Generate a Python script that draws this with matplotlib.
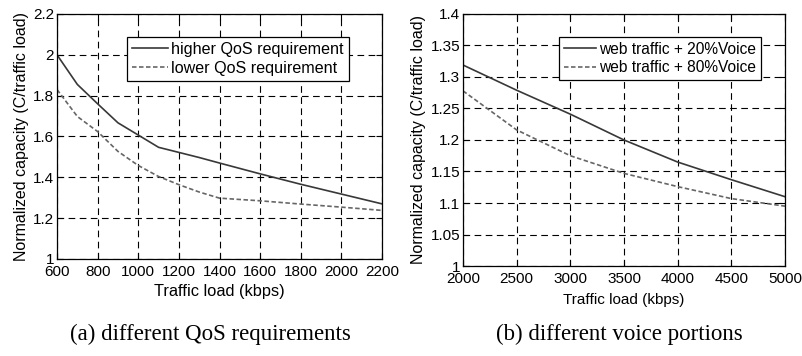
import matplotlib
matplotlib.use("Agg")
import matplotlib.pyplot as plt

plt.rcParams['font.family'] = ['Liberation Sans', 'DejaVu Sans']

# Panel (a)
load_a = [600, 700, 800, 900, 1000, 1100, 1200, 1300, 1400, 1600, 1800, 2000, 2200]
higher_qos = [2.0, 1.855, 1.76, 1.667, 1.607, 1.547, 1.522, 1.497, 1.47, 1.417, 1.366, 1.318, 1.27]
lower_qos = [1.83, 1.698, 1.624, 1.527, 1.458, 1.404, 1.364, 1.328, 1.298, 1.285, 1.269, 1.254, 1.238]
xticks_a = [600, 800, 1000, 1200, 1400, 1600, 1800, 2000, 2200]
yticks_a = [1, 1.2, 1.4, 1.6, 1.8, 2, 2.2]
ytick_labels_a = ['1', '1.2', '1.4', '1.6', '1.8', '2', '2.2']

# Panel (b)
load_b = [2000, 2500, 3000, 3500, 4000, 4500, 5000]
voice20 = [1.319, 1.279, 1.241, 1.2, 1.165, 1.137, 1.11]
voice80 = [1.278, 1.216, 1.175, 1.147, 1.126, 1.107, 1.095]
xticks_b = [2000, 2500, 3000, 3500, 4000, 4500, 5000]
yticks_b = [1, 1.05, 1.1, 1.15, 1.2, 1.25, 1.3, 1.35, 1.4]
ytick_labels_b = ['1', '1.05', '1.1', '1.15', '1.2', '1.25', '1.3', '1.35', '1.4']

fig = plt.figure(figsize=(8.02, 3.56), dpi=100)
ax1 = fig.add_axes([0.0711, 0.2725, 0.4052, 0.6882])
ax2 = fig.add_axes([0.5773, 0.2528, 0.4015, 0.7079])

solid_c = '#383838'
dash_c = '#666666'

def style(ax, fs):
    ax.grid(True, color='black', linestyle=(0, (6, 4)), linewidth=0.8)
    ax.set_axisbelow(True)
    ax.tick_params(direction='in', length=4, width=0.8, labelsize=fs,
                   top=True, right=True, pad=2)
    ax.tick_params(axis='x', pad=4)
    for s in ax.spines.values():
        s.set_linewidth(0.9)
        s.set_color('black')

ax1.plot(load_a, higher_qos, color=solid_c, lw=1.2, label='higher QoS requirement')
ax1.plot(load_a, lower_qos, color=dash_c, lw=1.2, linestyle=(0, (2.7, 1.5)), label='lower QoS requirement')
ax1.set_xlim(600, 2200)
ax1.set_ylim(1, 2.2)
ax1.set_xticks(xticks_a)
ax1.set_yticks(yticks_a)
ax1.set_yticklabels(ytick_labels_a)
style(ax1, 11)
ax1.set_xlabel('Traffic load (kbps)', fontsize=11.8, labelpad=4)
ax1.set_ylabel('Normalized capacity (C/traffic load)', fontsize=11.5, labelpad=3)
leg1 = ax1.legend(loc='upper left', bbox_to_anchor=(0.215, 0.906), fontsize=11.6,
                  frameon=True, fancybox=False, edgecolor='black', framealpha=1,
                  handlelength=2.25, handletextpad=0.2, borderpad=0.3, labelspacing=0.25,
                  borderaxespad=0)
leg1.get_frame().set_linewidth(0.9)

ax2.plot(load_b, voice20, color=solid_c, lw=1.2, label='web traffic + 20%Voice')
ax2.plot(load_b, voice80, color=dash_c, lw=1.2, linestyle=(0, (2.7, 1.5)), label='web traffic + 80%Voice')
ax2.set_xlim(2000, 5000)
ax2.set_ylim(1, 1.4)
ax2.set_xticks(xticks_b)
ax2.set_yticks(yticks_b)
ax2.set_yticklabels(ytick_labels_b)
style(ax2, 11)
ax2.set_xlabel('Traffic load (kbps)', fontsize=11, labelpad=5)
ax2.set_ylabel('Normalized capacity (C/traffic load)', fontsize=11.5, labelpad=3)
leg2 = ax2.legend(loc='upper left', bbox_to_anchor=(0.298, 0.909), fontsize=11.2,
                  frameon=True, fancybox=False, edgecolor='black', framealpha=1,
                  handlelength=2.1, handletextpad=0.2, borderpad=0.3, labelspacing=0.25,
                  borderaxespad=0)
leg2.get_frame().set_linewidth(0.9)

fig.text(210 / 802, 1 - 334 / 356, '(a) different QoS requirements', ha='center', va='center',
         family='Liberation Serif', fontsize=16.5)
fig.text(619 / 802, 1 - 334 / 356, '(b) different voice portions', ha='center', va='center',
         family='Liberation Serif', fontsize=16.5)

fig.savefig('out.png', dpi=100)
